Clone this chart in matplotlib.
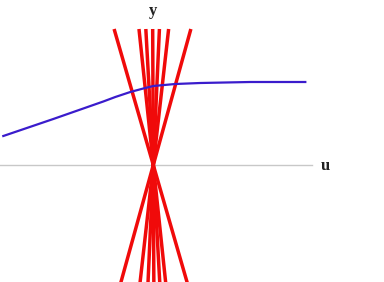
import matplotlib
matplotlib.use("Agg")
import matplotlib.pyplot as plt
import numpy as np

# Data (units: 1 = 50 px in reference, origin at crossing point)
red_slopes = [-3.47, -9.5, -18.2, -220.0, 22.2, 8.87, 3.62]
red_y_top = 2.72
red_y_bottom = -2.6

blue_u = [-3.0, -2.0, -1.0, -0.76, -0.46, -0.2, 0.0, 0.44, 0.94, 1.94, 3.04]
blue_y = [0.58, 0.92, 1.27, 1.36, 1.46, 1.53, 1.58, 1.62, 1.64, 1.66, 1.66]

axis_u_end = 3.18

fig = plt.figure(figsize=(3.84, 2.82), dpi=100)
ax = fig.add_axes([0, 0, 1, 1])
ax.set_xlim(-3.066, 4.614)
ax.set_ylim(-2.34, 3.3)
ax.axis("off")

ax.plot([-3.07, axis_u_end], [0, 0], color="#c8c8c8", lw=1.0, zorder=1)

for m in red_slopes:
    ys = np.array([red_y_bottom, red_y_top])
    ax.plot(ys / m, ys, color="#f00a0a", lw=2.5, solid_capstyle="butt", zorder=2)

ax.plot(blue_u, blue_y, color="#3a1ccc", lw=1.6, zorder=3)

ax.text(3.44, -0.02, "u", fontsize=12, fontweight="bold", family="Liberation Serif",
        ha="center", va="center", color="#222222")
ax.text(0.0, 3.08, "y", fontsize=12, fontweight="bold", family="Liberation Serif",
        ha="center", va="center", color="#222222")

fig.savefig("out.png", dpi=100)
